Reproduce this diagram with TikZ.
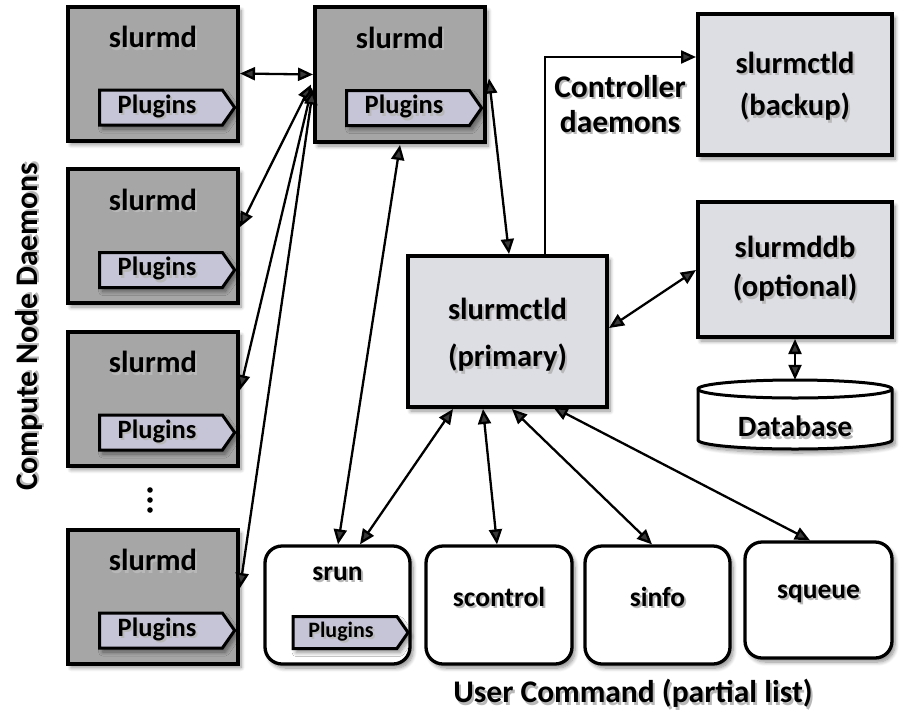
\documentclass[tikz,border=0pt]{standalone}
\usepackage{fontspec}
\setmainfont{Carlito}
\usetikzlibrary{arrows.meta,shapes.symbols,shadows.blur,calc}
\definecolor{sdgray}{HTML}{A6A6A6}
\definecolor{ctlfill}{HTML}{DDDDE4}
\definecolor{plugfill}{HTML}{C6C5D8}
\newcommand\shtx[1]{\makebox[0pt][l]{\hspace{2pt}\raisebox{-2.5pt}{\textcolor{black!28}{#1}}}#1}
\tikzset{
  bshadow/.style={blur shadow={shadow xshift=3pt,shadow yshift=-4pt,shadow blur steps=8,shadow blur radius=4pt,shadow opacity=45}},
  sdbox/.style={draw=black,line width=4pt,fill=sdgray,minimum width=170pt,minimum height=134pt,inner sep=0pt,bshadow},
  ctlbox/.style={draw=black,line width=4pt,fill=ctlfill,minimum width=194pt,inner sep=0pt,bshadow},
  cmdbox/.style={draw=black,line width=3.3pt,fill=white,rounded corners=17pt,minimum width=145pt,minimum height=118pt,inner sep=0pt,bshadow},
  plug/.style={signal,signal to=east,signal pointer angle=110,draw=black,line width=3pt,fill=plugfill,minimum width=135pt,minimum height=35pt,inner sep=0pt,font=\fontsize{26.5}{30}\selectfont\bfseries,bshadow},
  lbl/.style={inner sep=0pt,font=\fontsize{30.5}{34}\selectfont\bfseries},
  cmdlbl/.style={inner sep=0pt,font=\fontsize{27.5}{31}\selectfont\bfseries},
  biglbl/.style={inner sep=0pt,font=\fontsize{31.5}{36}\selectfont\bfseries},
  conn/.style={{Triangle[length=15pt,width=13pt]}-{Triangle[length=15pt,width=13pt]},line width=2.3pt},
  oneway/.style={-{Triangle[length=15pt,width=13pt]},line width=2.3pt}
}
\begin{document}
\begin{tikzpicture}[x=1pt,y=-1pt]
\useasboundingbox (0,0) rectangle (901,715);

% compute node daemons
\node[sdbox] (sd1) at (153,73.5) {};
\node[sdbox] (sd2) at (153,236) {};
\node[sdbox] (sd3) at (153,398.5) {};
\node[sdbox] (sd4) at (153,596.5) {};
\node[sdbox,minimum height=135pt] (sdT) at (400,74.5) {};
\foreach \b in {sd1,sd2,sd3,sd4,sdT}{
  \node[lbl] (\b-t) at ($(\b.north)+(0,34)$) {\shtx{slurmd}};
  \node[plug] (\b-p) at ($(\b.north)+(8,103)$) {\hspace*{-8pt}\shtx{Plugins}};
}
\fill (150,490) circle (2.8pt) (150,500) circle (2.8pt) (150,510) circle (2.8pt);

% controllers
\node[ctlbox,minimum width=199pt,minimum height=151pt] (prim) at (507.5,331.5) {};
\node[lbl] (prim-t1) at (507.5,310) {\shtx{slurmctld}};
\node[lbl] (prim-t2) at (507.5,359) {\shtx{(primary)}};
\node[ctlbox,minimum height=141pt] (backup) at (795,84.5) {};
\node[lbl] (backup-t1) at (795,64) {\shtx{slurmctld}};
\node[lbl] (backup-t2) at (795,108) {\shtx{(backup)}};
\node[ctlbox,minimum height=135pt] (dbd) at (795,269.5) {};
\node[lbl] (dbd-t1) at (795,248) {\shtx{slurmddb}};
\node[lbl] (dbd-t2) at (795,289) {\shtx{(optional)}};

% database cylinder
\node[minimum width=194pt,minimum height=69pt,inner sep=0pt] (db) at (795,414.5) {};
\draw[line width=3pt,fill=white,bshadow] (698,389) -- (698,440) arc (180:360:97pt and 9pt) -- (892,389) arc (0:180:97pt and 9pt) -- cycle;
\draw[line width=3pt] (698,389) arc (180:360:97pt and 9pt);
\node[lbl,font=\fontsize{29.5}{33}\selectfont\bfseries] (db-t) at (795,428) {\shtx{Database}};

% user commands
\node[cmdbox] (srun) at (337.5,605) {};
\node[cmdbox,minimum width=146pt] (scontrol) at (499,605) {};
\node[cmdbox] (sinfo) at (657.5,605) {};
\node[cmdbox,minimum width=147pt,minimum height=116pt] (squeue) at (818.5,600) {};
\node[cmdlbl] (srun-t) at (337.5,575) {\shtx{srun}};
\node[plug,minimum width=115pt,minimum height=32pt,font=\fontsize{22}{25}\selectfont\bfseries] (srun-p) at (345,632.5) {\hspace*{-8pt}\shtx{Plugins}};
\node[cmdlbl] (scontrol-t) at (499,598) {\shtx{scontrol}};
\node[cmdlbl] (sinfo-t) at (657.5,598) {\shtx{sinfo}};
\node[cmdlbl] (squeue-t) at (818.5,595) {\shtx{squeue}};

% titles
\node[biglbl] (ucmd) at (633,695) {\shtx{User Command (partial list)}};
\node[biglbl,rotate=90] (cnd) at (30,327) {\shtx{Compute Node Daemons}};
\node[biglbl,align=center] (ctlt) at (620,105) {\shtx{Controller}\\[-1pt]\shtx{daemons}};

% connectors
\draw[conn] (sd1.east) -- (sdT.west);
\draw[conn] ($(sdT.west)+(-2,10)$) -- ($(sd2.east)+(0,-9)$);
\draw[conn] ($(sdT.west)+(-1,13)$) -- ($(sd3.east)+(0,-8.5)$);
\draw[conn] ($(sdT.west)+(0,15)$) -- ($(sd4.east)+(0,-8.5)$);
\draw[conn] ($(sdT.south)+(0,1)$) -- ($(srun.north)+(0.5,0)$);
\draw[conn] ($(sdT.east)+(2,4)$) -- ($(prim.north)+(1.5,0)$);
\draw[conn] ($(prim.south)+(-54.5,0)$) -- ($(srun.north)+(22.5,0)$);
\draw[conn] ($(prim.south)+(-24.5,0)$) -- ($(scontrol.north)+(-2,0)$);
\draw[conn] ($(prim.south)+(4.5,0)$) -- ($(sinfo.north)+(-5.5,0)$);
\draw[conn] ($(prim.south)+(45.5,-2)$) -- ($(squeue.north)+(-8.5,0)$);
\draw[conn] ($(prim.east)+(0,-3.5)$) -- ($(dbd.west)+(0,0.5)$);
\draw[conn] (dbd.south) -- (db.north);
\draw[oneway] ($(prim.north)+(37.5,0)$) |- ($(backup.west)+(0,-27.5)$);
\end{tikzpicture}
\end{document}
